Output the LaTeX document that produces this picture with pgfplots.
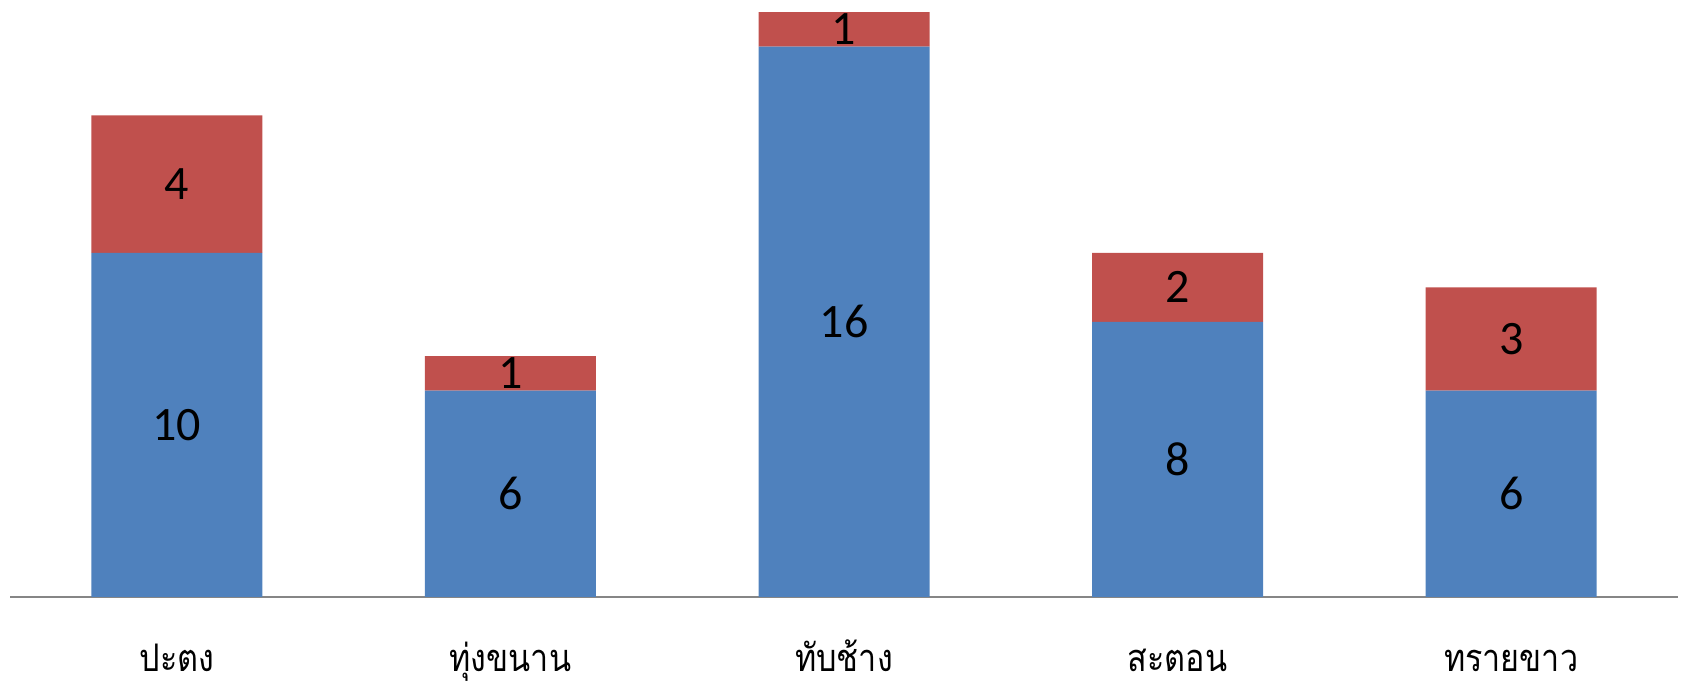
\documentclass[border=0pt]{standalone}
\usepackage{pgfplots}
\pgfplotsset{compat=1.18}
\usepackage{fontspec}
\setmainfont{Carlito}
\newfontfamily\thaifont[Script=Thai,FakeStretch=0.85]{Loma}
\definecolor{barblue}{HTML}{4F81BD}
\definecolor{barred}{HTML}{C0504D}
\definecolor{axisgrey}{HTML}{868686}
\pgfplotsset{
  chartgeom/.style={
    at={(5bp,44bp)}, anchor=south west,
    scale only axis,
    x=166.8bp, y=17.2bp,
    xmin=-0.5, xmax=4.5,
    ymin=0, ymax=17.35,
  },
}
\begin{document}
\begin{tikzpicture}
\useasboundingbox (0,0) rectangle (841.5bp,342.5bp);
\begin{axis}[
    chartgeom,
    ybar stacked,
    bar width=85.5bp,
    axis y line=none,
    axis x line*=bottom,
    x axis line style={draw=axisgrey, line width=1bp, -},
    xtick={0,1,2,3,4},
    xticklabels={ปะตง, ทุ่งขนาน, ทับช้าง, สะตอน, ทรายขาว},
    major tick length=0pt,
    xticklabel style={font=\thaifont\fontsize{19bp}{23bp}\selectfont,
        anchor=base, inner sep=0pt, yshift=-37bp},
]
\addplot[fill=barblue, draw=none] coordinates {(0,10) (1,6) (2,16) (3,8) (4,6)};
\addplot[fill=barred, draw=none] coordinates {(0,4) (1,1) (2,1) (3,2) (4,3)};
\end{axis}
% value labels, placed at the middle of each segment
\begin{axis}[
    chartgeom,
    hide axis,
    nodes near coords,
    point meta=explicit symbolic,
    every node near coord/.append style={
        font=\fontsize{24bp}{29bp}\selectfont, text=black, anchor=center},
]
\addplot[only marks, mark=none] coordinates {
  (0,5)[10] (1,3)[6] (2,8)[16] (3,4)[8] (4,3)[6]
  (0,12)[4] (1,6.5)[1] (2,16.5)[1] (3,9)[2] (4,7.5)[3]
};
\end{axis}
\end{tikzpicture}
\end{document}
